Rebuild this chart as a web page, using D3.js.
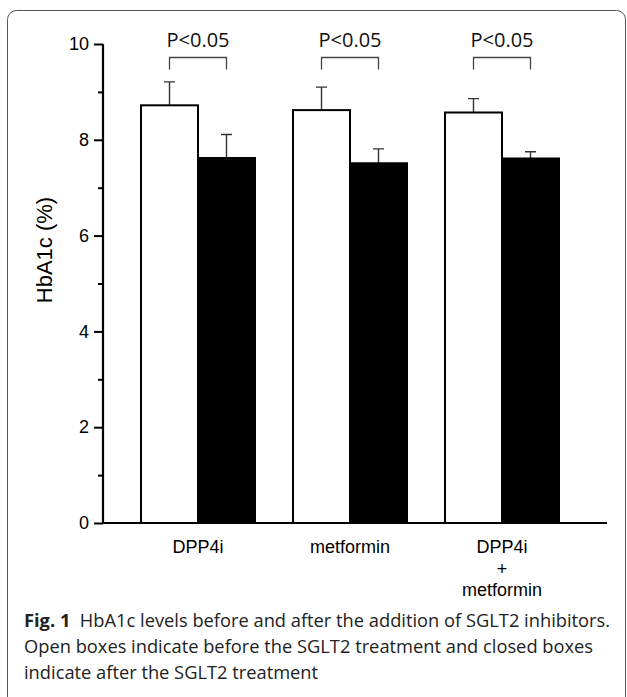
<!DOCTYPE html>
<html>
<head>
<meta charset="utf-8">
<script src="https://cdn.jsdelivr.net/npm/d3@7"></script>
<style>
  body { margin: 0; background: #fff; }
  svg { display: block; }
</style>
</head>
<body>
<script>
// data
var categories = ["DPP4i", "metformin", "DPP4i\n+\nmetformin"];
var before = [8.72, 8.62, 8.57];
var beforeErr = [0.49, 0.48, 0.29];
var after = [7.62, 7.51, 7.61];
var afterErr = [0.49, 0.30, 0.14];
var pLabels = ["P<0.05", "P<0.05", "P<0.05"];
var majorTicks = [0, 2, 4, 6, 8, 10];
var minorTicks = [1, 3, 5, 7, 9];
var captionLines = [
  ["Fig. 1", "  HbA1c levels before and after the addition of SGLT2 inhibitors."],
  ["", "Open boxes indicate before the SGLT2 treatment and closed boxes"],
  ["", "indicate after the SGLT2 treatment"]
];

var W = 627, H = 697;
var axisX = 103;

var svg = d3.select("body").append("svg")
    .attr("width", W)
    .attr("height", H);

// rounded frame
svg.append("rect")
    .attr("x", 7.5).attr("y", 10.5)
    .attr("width", 618).attr("height", 700)
    .attr("rx", 9)
    .attr("fill", "none")
    .attr("stroke", "#555")
    .attr("stroke-width", 1);

var y = d3.scaleLinear().domain([0, 10]).range([523, 44]);

var x = d3.scaleBand()
    .domain(categories)
    .range([axisX, 597])
    .paddingInner(0.25)
    .paddingOuter(0.25);

var sub = d3.scaleBand()
    .domain(["before", "after"])
    .range([0, x.bandwidth()]);

var rows = categories.map(function(c, i) {
  return {cat: c, p: pLabels[i], bars: [
    {key: "before", v: before[i], e: beforeErr[i]},
    {key: "after", v: after[i], e: afterErr[i]}
  ]};
});

var g = svg.selectAll(".grp")
    .data(rows)
  .enter().append("g")
    .attr("class", "grp")
    .attr("transform", function(d) { return "translate(" + x(d.cat) + ",0)"; });

// error bars (drawn before the bars so stems start at the top edge)
g.selectAll(".err")
    .data(function(d) { return d.bars; })
  .enter().append("path")
    .attr("class", "err")
    .attr("fill", "none")
    .attr("stroke", "#333")
    .attr("stroke-width", 1.4)
    .attr("d", function(d) {
      var cx = sub(d.key) + sub.bandwidth() / 2;
      var top = y(d.v + d.e);
      return "M" + cx + "," + y(d.v) + "V" + top + "M" + (cx - 5.5) + "," + top + "H" + (cx + 5.5);
    });

g.selectAll(".bar")
    .data(function(d) { return d.bars; })
  .enter().append("rect")
    .attr("class", "bar")
    .attr("x", function(d) { return sub(d.key); })
    .attr("y", function(d) { return y(d.v); })
    .attr("width", sub.bandwidth())
    .attr("height", function(d) { return y(0) - y(d.v); })
    .attr("fill", function(d) { return d.key == "before" ? "#fff" : "#000"; })
    .attr("stroke", "#000")
    .attr("stroke-width", 2);

// significance brackets
g.append("path")
    .attr("fill", "none")
    .attr("stroke", "#444")
    .attr("stroke-width", 1.3)
    .attr("d", function() {
      var x1 = sub("before") + sub.bandwidth() / 2,
          x2 = sub("after") + sub.bandwidth() / 2;
      return "M" + x1 + ",69.5V57.5H" + x2 + "V69.5";
    });

g.append("text")
    .attr("x", x.bandwidth() / 2)
    .attr("y", 47)
    .attr("text-anchor", "middle")
    .style("font-family", "'Open Sans', sans-serif")
    .style("font-size", "20px")
    .attr("fill", "#111")
    .text(function(d) { return d.p; });

// y axis
var yAxis = svg.append("g")
    .attr("transform", "translate(" + axisX + ",0)")
    .call(d3.axisLeft(y).tickValues(majorTicks).tickSize(9).tickPadding(5).tickFormat(d3.format("d")));

svg.append("g")
    .attr("transform", "translate(" + axisX + ",0)")
    .call(d3.axisLeft(y).tickValues(minorTicks).tickSize(5).tickFormat(""))
    .select(".domain").remove();

yAxis.select(".domain").remove();
svg.selectAll(".tick line").attr("stroke", "#000").attr("stroke-width", 2);
yAxis.selectAll(".tick text")
    .style("font-family", "'Liberation Sans', Arial, sans-serif")
    .style("font-size", "18px")
    .attr("fill", "#000");

svg.append("line")
    .attr("x1", axisX).attr("x2", axisX)
    .attr("y1", y(10)).attr("y2", y(0) + 1)
    .attr("stroke", "#000").attr("stroke-width", 2.2);

// x axis line
svg.append("line")
    .attr("x1", axisX).attr("x2", x.range()[1] + 10)
    .attr("y1", y(0)).attr("y2", y(0))
    .attr("stroke", "#000").attr("stroke-width", 2);

svg.append("text")
    .attr("transform", "translate(52,250) rotate(-90)")
    .attr("text-anchor", "middle")
    .style("font-family", "'Liberation Sans', Arial, sans-serif")
    .style("font-size", "22px")
    .text("HbA1c (%)");

// category labels
var cl = svg.selectAll(".cat")
    .data(categories)
  .enter().append("text")
    .attr("class", "cat")
    .attr("text-anchor", "middle")
    .style("font-family", "'Liberation Sans', Arial, sans-serif")
    .style("font-size", "18px");

cl.selectAll("tspan")
    .data(function(d) { return d.split("\n").map(function(s) { return {s: s, c: d}; }); })
  .enter().append("tspan")
    .attr("x", function(d) { return x(d.c) + x.bandwidth() / 2; })
    .attr("y", function(d, i) { return 553 + i * 21.7; })
    .text(function(d) { return d.s; });

// caption
var cap = svg.append("g")
    .style("font-family", "'Open Sans', sans-serif")
    .style("font-size", "18.3px")
    .attr("fill", "#222");

captionLines.forEach(function(l, i) {
  var t = cap.append("text")
      .attr("x", 24)
      .attr("y", 627 + i * 26)
      .attr("xml:space", "preserve");
  if (l[0]) t.append("tspan").style("font-weight", "bold").text(l[0]);
  t.append("tspan").text(l[1]);
});
</script>
</body>
</html>
